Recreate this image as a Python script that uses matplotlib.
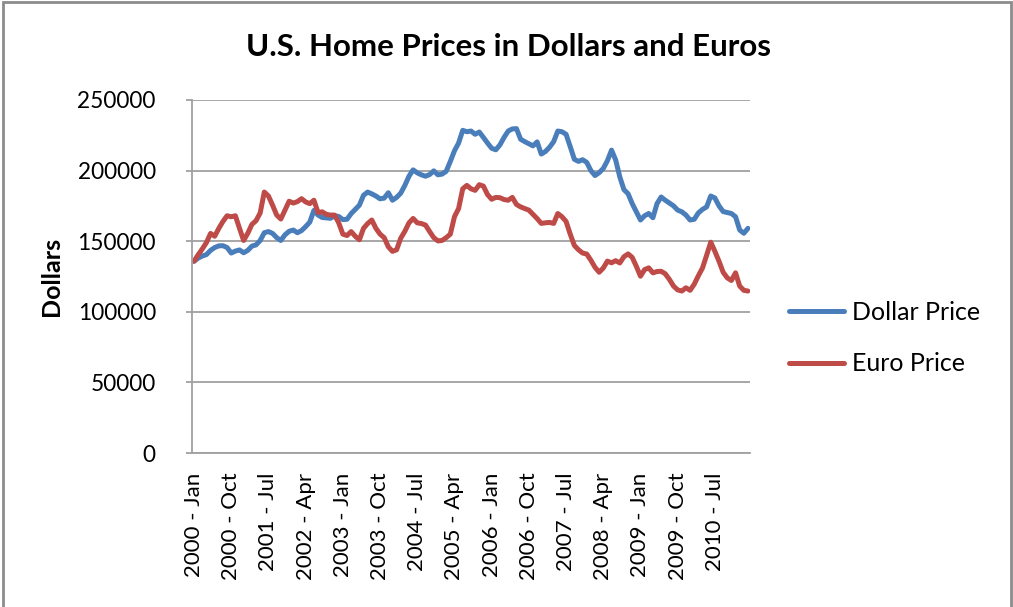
import numpy as np
import matplotlib.pyplot as plt
from matplotlib.patches import Rectangle
from matplotlib.ticker import StrMethodFormatter

plt.rcParams['font.family'] = ['Lato', 'DejaVu Sans']

# monthly prices, Jan 2000 - Mar 2011
dollar_price = [
    135800, 138000, 139500, 140500, 143500, 145500, 146700, 146800, 145500, 141600,
    143000, 143800, 141800, 143500, 146500, 147400, 150500, 156000, 156800, 155500,
    152500, 150500, 154500, 157000, 157900, 156000, 157500, 160300, 163500, 171800,
    168500, 166800, 166500, 166200, 168000, 167500, 165300, 165500, 169500, 172500,
    175500, 182500, 184800, 183500, 182000, 180000, 180500, 184300, 179000, 181000,
    184000, 189500, 196000, 200500, 198400, 197000, 196000, 197200, 199800, 197000,
    197500, 199500, 206500, 214000, 219500, 228500, 227500, 228000, 225700, 227300,
    223500, 219500, 215800, 214700, 218200, 223500, 228000, 229500, 229700, 222200,
    220500, 219000, 217500, 220300, 211700, 213500, 216500, 220500, 228000, 227500,
    225700, 217000, 208000, 206500, 207700, 205800, 200000, 196500, 198500, 201500,
    207000, 214500, 207500, 195500, 186500, 183600, 176600, 170800, 165000, 168000,
    169600, 166600, 176600, 181300, 179000, 177000, 175000, 172000, 170800, 168500,
    165000, 165500, 170000, 172500, 174300, 182000, 180600, 175000, 171000, 170300,
    169600, 167300, 157900, 155600, 159100]

euro_price = [
    135800, 140400, 144500, 149000, 155500, 153500, 159100, 164000, 168000, 167300,
    168000, 159100, 150500, 155600, 161900, 164500, 170000, 184800, 182000, 175500,
    168500, 165700, 172000, 178300, 177000, 178000, 180100, 177800, 176600, 179000,
    170300, 170800, 169000, 168500, 168500, 163000, 155000, 154000, 156800, 153500,
    151000, 159100, 162500, 165000, 159100, 155000, 152500, 146000, 142800, 143900,
    152100, 157000, 163000, 166100, 163000, 162500, 161400, 156800, 152500, 150200,
    150500, 152500, 155000, 167300, 173100, 187100, 189500, 187100, 186000, 190000,
    189000, 183000, 179700, 181000, 180800, 179500, 179000, 181000, 176000, 174300,
    173100, 172000, 169000, 166000, 162600, 163000, 163300, 162600, 169600, 167300,
    164000, 155000, 147000, 143900, 141600, 140900, 136500, 131500, 128000, 131000,
    135900, 134700, 136200, 134600, 139000, 141000, 138500, 132200, 125200, 129900,
    131100, 127600, 128500, 128700, 126900, 122900, 118200, 115500, 114700, 117000,
    115200, 119500, 125500, 131000, 140000, 149300, 142800, 135750, 128000, 124000,
    122200, 127600, 118200, 115200, 114700]

month_names = ['Jan', 'Feb', 'Mar', 'Apr', 'May', 'Jun',
               'Jul', 'Aug', 'Sep', 'Oct', 'Nov', 'Dec']
months = [str(y) + ' - ' + m for y in range(2000, 2012) for m in month_names]
months = months[:len(dollar_price)]

x = np.arange(len(months))

fig = plt.figure(figsize=(10.13, 6.07), dpi=100)
ax = fig.add_axes([0.1895, 0.2537, 0.7404 - 0.1895, 0.8353 - 0.2537])

ax.plot(x, dollar_price, color='#4A7EBB', lw=3.6, label='Dollar Price', solid_capstyle='round')
ax.plot(x, euro_price, color='#BE4B48', lw=3.6, label='Euro Price', solid_capstyle='round')

ax.set_xlim(-0.5, len(months) - 0.5)
ax.set_ylim(0, 250000)
ax.set_yticks(np.arange(0, 250001, 50000))
ax.yaxis.set_major_formatter(StrMethodFormatter('{x:.0f}'))
ax.set_xticks(x[::9])
ax.set_xticklabels(months[::9], rotation=90)

ax.grid(axis='y', color='#a0a0a0', lw=1.3)
ax.set_axisbelow(True)
for s in ['top', 'right']:
    ax.spines[s].set_visible(False)
for s in ['left', 'bottom']:
    ax.spines[s].set_color('#a0a0a0')
    ax.spines[s].set_linewidth(1.3)
ax.tick_params(axis='y', labelsize=16.3, length=4, width=1.3, color='#a0a0a0', pad=22)
ax.tick_params(axis='x', labelsize=16, length=0, pad=14)

ax.set_ylabel('Dollars', fontsize=18, fontweight='bold', labelpad=10)
fig.text(0.502, 0.923, 'U.S. Home Prices in Dollars and Euros', ha='center', va='center',
         fontsize=22.5, fontweight='bold')

fig.legend(loc='center left', bbox_to_anchor=(0.779, 0.443), frameon=False, fontsize=18,
           handlelength=2.2, handletextpad=0.3, labelspacing=1.15, borderpad=0, borderaxespad=0)

# chart area border
fig.patches.append(Rectangle((0.003, -0.01), 0.995, 1.006, transform=fig.transFigure,
                             fill=False, edgecolor='#8c8c8c', lw=2))

fig.savefig('out.png', dpi=100)
